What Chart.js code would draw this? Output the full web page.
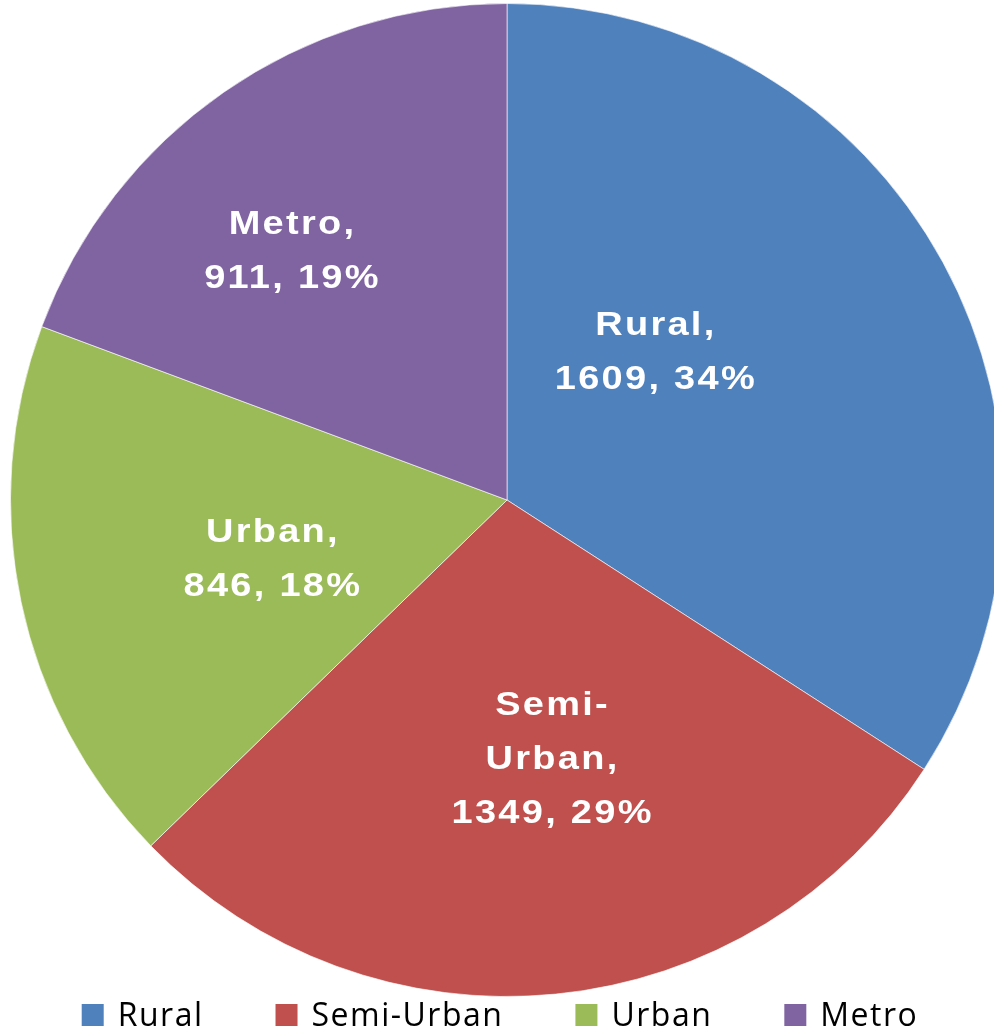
<!DOCTYPE html>
<html>
<head>
<meta charset="utf-8">
<script src="https://cdn.jsdelivr.net/npm/chart.js@4.4.1/dist/chart.umd.min.js"></script>
<style>
  html, body { margin: 0; padding: 0; background: #fff; overflow: hidden; }
  #wrap { width: 1014px; height: 1034px; }
</style>
</head>
<body>
<div id="wrap"><canvas id="pie" width="1014" height="1034"></canvas></div>
<script>
const categories = ['Rural', 'Semi-Urban', 'Urban', 'Metro'];
const values = [1609, 1349, 846, 911];
const colors = ['#4F81BD', '#C0504D', '#9BBB59', '#8064A2'];

// white labels inside the slices: "Name, value, pct%"
const sliceLabels = {
  id: 'sliceLabels',
  afterDatasetsDraw(chart, args, opts) {
    const ctx = chart.ctx;
    const meta = chart.getDatasetMeta(0);
    const total = values.reduce((a, b) => a + b, 0);
    ctx.save();
    ctx.font = 'bold 33px "Liberation Sans", Arial, sans-serif';
    ctx.fillStyle = '#fff';
    ctx.textAlign = 'center';
    ctx.textBaseline = 'alphabetic';
    ctx.letterSpacing = opts.spacing + 'px';
    meta.data.forEach((arc, i) => {
      const p = arc.getProps(['x', 'y', 'startAngle', 'endAngle', 'outerRadius'], true);
      const a = (p.startAngle + p.endAngle) / 2 + opts.shift[i] * Math.PI / 180;
      const r = p.outerRadius * opts.reach[i];
      const cx = p.x + Math.cos(a) * r;
      const cy = p.y + Math.sin(a) * r;
      const name = categories[i];
      const head = name.includes('-') ? [name.split('-')[0] + '-', name.split('-')[1] + ','] : [name + ','];
      const pct = Math.round(values[i] / total * 100);
      const lines = head.concat([values[i] + ', ' + pct + '%']);
      const first = cy - (lines.length - 1) * opts.lineHeight / 2 + 12;
      lines.forEach((t, k) => {
        ctx.save();
        ctx.translate(cx + opts.spacing / 2, first + k * opts.lineHeight);
        ctx.scale(opts.stretch, 1);
        ctx.fillText(t, 0, 0);
        ctx.restore();
      });
    });
    ctx.restore();
  }
};

// legend row under the pie
const bottomLegend = {
  id: 'bottomLegend',
  afterDraw(chart, args, opts) {
    const ctx = chart.ctx;
    ctx.save();
    ctx.font = '32px "Open Sans", sans-serif';
    ctx.letterSpacing = '1.5px';
    ctx.textBaseline = 'alphabetic';
    const widths = categories.map(c => ctx.measureText(c).width);
    const itemW = widths.map(w => opts.box + opts.textGap + w);
    const full = itemW.reduce((a, b) => a + b, 0) + opts.gap * (categories.length - 1);
    let x = opts.center - full / 2;
    categories.forEach((c, i) => {
      ctx.fillStyle = colors[i];
      ctx.fillRect(x, opts.baseline - opts.box, opts.box, opts.box);
      ctx.fillStyle = '#000';
      ctx.fillText(c, x + opts.box + opts.textGap, opts.baseline);
      x += itemW[i] + opts.gap;
    });
    ctx.restore();
  }
};

new Chart(document.getElementById('pie'), {
  type: 'pie',
  data: {
    labels: categories,
    datasets: [{
      data: values,
      backgroundColor: colors,
      borderColor: 'rgba(255,255,255,0.6)',
      borderWidth: 1
    }]
  },
  options: {
    responsive: false,
    animation: false,
    devicePixelRatio: 1,
    layout: { padding: { top: 3, bottom: 37, left: 0, right: 0 } },
    plugins: {
      legend: { display: false },
      tooltip: { enabled: false },
      sliceLabels: {
        spacing: 2,
        stretch: 1.15,
        lineHeight: 54,
        shift: [-16.8, -4.2, -1.7, -5.9],
        reach: [0.424, 0.525, 0.487, 0.666]
      },
      bottomLegend: { center: 500, baseline: 1026, box: 22, textGap: 14, gap: 72 }
    }
  },
  plugins: [sliceLabels, bottomLegend]
});
</script>
</body>
</html>
